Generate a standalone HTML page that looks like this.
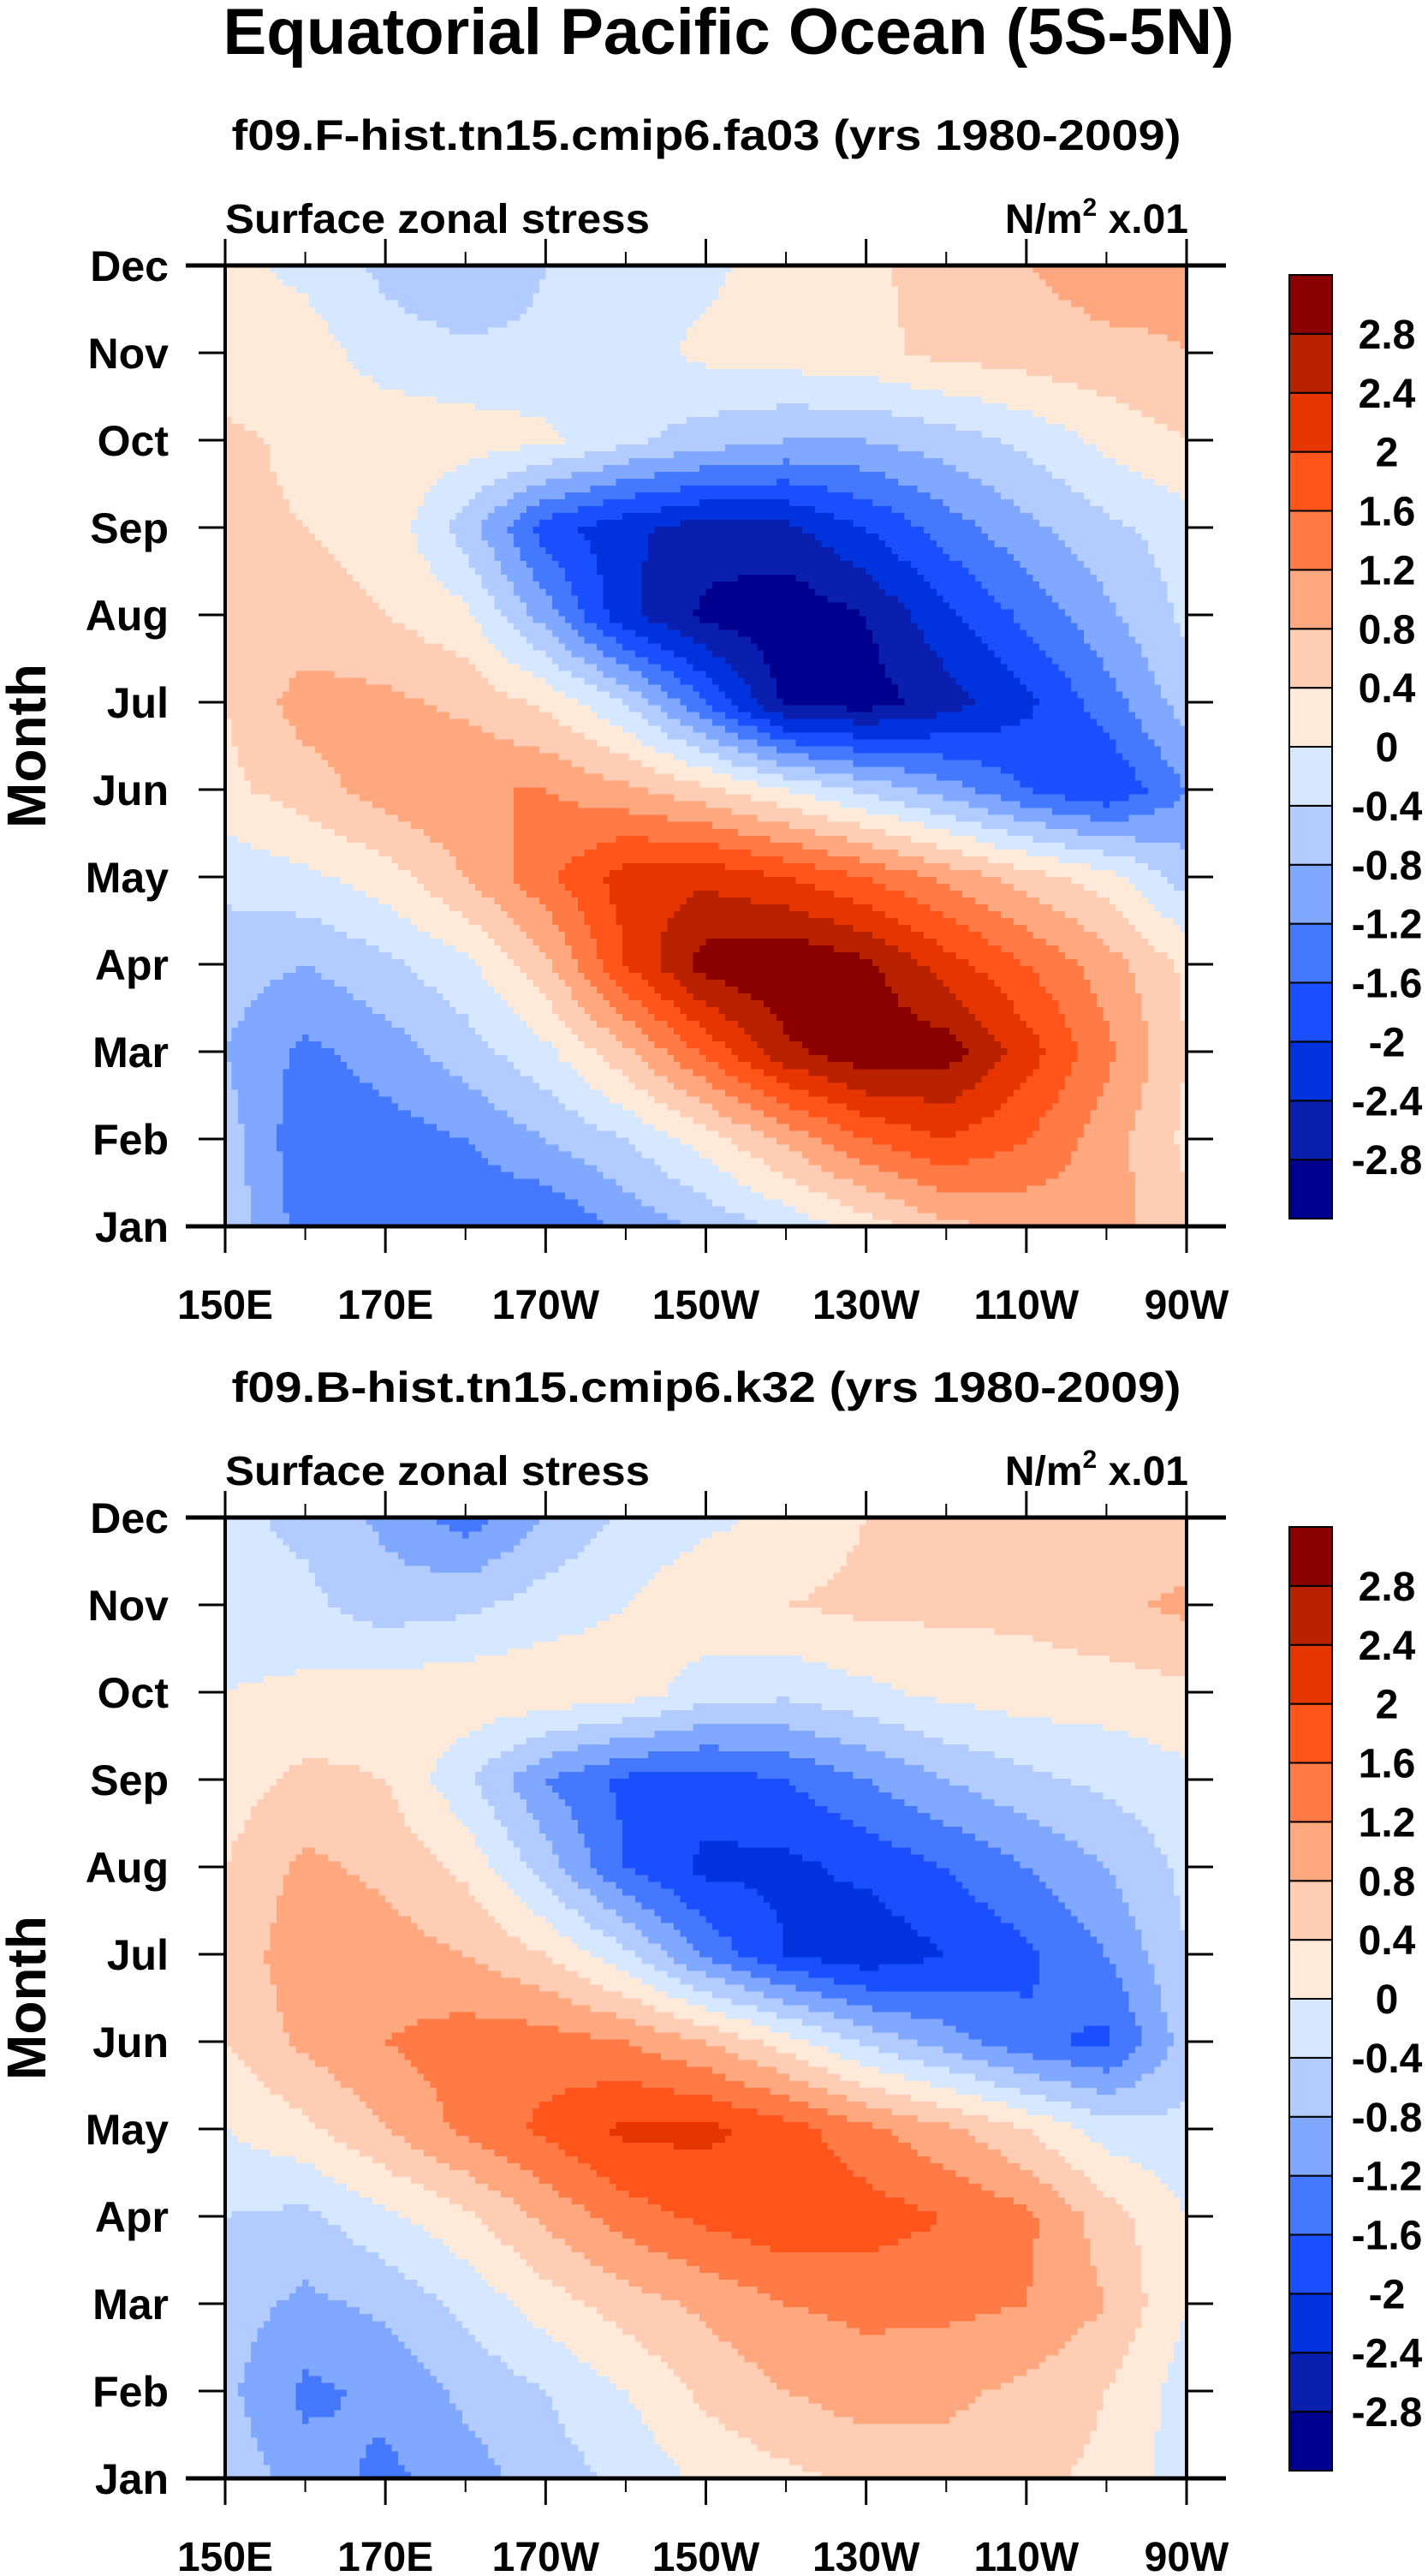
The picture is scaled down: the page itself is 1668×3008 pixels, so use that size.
<!DOCTYPE html>
<html><head><meta charset="utf-8"><title>Equatorial Pacific Ocean (5S-5N)</title>
<style>html,body{margin:0;padding:0;background:#fff}svg{display:block}text{font-family:"Liberation Sans",Arial,sans-serif;font-weight:bold;fill:#000}</style>
</head><body>
<svg id="fig" xmlns="http://www.w3.org/2000/svg" width="1668" height="3008" viewBox="0 0 1668 3008">
<text x="851" y="63" font-size="76" text-anchor="middle" textLength="1181" lengthAdjust="spacingAndGlyphs">Equatorial Pacific Ocean (5S-5N)</text>
<g id="panels"></g>
</svg>
<script>
// ---- data ----
const months = ["Jan","Feb","Mar","Apr","May","Jun","Jul","Aug","Sep","Oct","Nov","Dec"];
const lons = [150,160,170,180,190,200,210,220,230,240,250,260,270];
const lonTicks = [150,170,190,210,230,250,270];
const lonTickLabels = ["150E","170E","170W","150W","130W","110W","90W"];
const levels = [-2.8,-2.4,-2,-1.6,-1.2,-0.8,-0.4,0,0.4,0.8,1.2,1.6,2,2.4,2.8];
const levelLabels = ["-2.8","-2.4","-2","-1.6","-1.2","-0.8","-0.4","0","0.4","0.8","1.2","1.6","2","2.4","2.8"];
const colors = ["#00008f","#0a1fae","#0033dd","#1a4fff","#4479ff","#80a8ff","#b3ccff","#d6e8ff","#ffead9","#ffcdb3","#ffa880","#ff7a45","#ff541a","#e63500","#b82200","#8b0000"];
const titles = ["f09.F-hist.tn15.cmip6.fa03 (yrs 1980-2009)","f09.B-hist.tn15.cmip6.k32 (yrs 1980-2009)"];
// rows: Jan..Dec, columns: lons
const taux1 = [
 [-0.5,-1.4,-1.5,-1.5,-1.6,-1.1,-0.7,-0.3,0.2,0.7,0.9,1.0,0.5],
 [-0.6,-1.5,-1.4,-1.2,-0.8,-0.4,0.2,0.9,1.6,2.0,1.6,1.0,0.3],
 [-0.8,-1.3,-1.0,-0.6,-0.1,0.7,1.7,2.7,3.1,3.0,2.2,1.3,0.4],
 [-0.6,-0.8,-0.5,-0.1,0.7,2.0,3.0,3.2,2.9,2.2,1.6,1.0,0.3],
 [-0.3,-0.1,0.2,0.8,1.5,2.2,2.3,2.0,1.6,1.1,0.6,0.2,-0.6],
 [0.3,0.6,1.0,1.2,1.2,0.9,0.5,0.0,-0.5,-1.0,-1.6,-2.0,-1.2],
 [0.4,1.0,0.9,0.7,0.3,-0.4,-1.6,-2.9,-3.0,-2.6,-2.1,-1.4,-0.6],
 [0.4,0.5,0.4,0.1,-1.0,-2.3,-2.9,-3.1,-2.8,-2.1,-1.5,-0.9,-0.3],
 [0.5,0.4,0.3,-0.6,-1.8,-2.3,-2.6,-2.5,-2.0,-1.4,-0.9,-0.5,-0.2],
 [0.5,0.3,0.3,0.2,0.1,-0.3,-0.6,-0.8,-0.8,-0.6,-0.3,0.1,0.4],
 [0.1,0.2,-0.2,-0.3,-0.3,-0.2,0.1,0.2,0.3,0.5,0.6,0.7,0.8],
 [0.1,-0.1,-0.5,-0.8,-0.4,-0.1,-0.1,0.2,0.3,0.6,0.8,1.0,0.9]
];
const taux2 = [
 [-0.5,-1.0,-1.3,-1.0,-0.6,-0.3,0.1,0.3,0.5,0.6,0.5,0.3,-0.2],
 [-0.7,-1.3,-1.1,-0.7,-0.4,0.0,0.5,0.8,1.0,0.9,0.7,0.4,-0.2],
 [-0.6,-0.9,-0.7,-0.3,0.2,0.6,0.9,1.2,1.3,1.3,1.2,0.8,0.0],
 [-0.4,-0.5,-0.1,0.3,0.9,1.4,1.7,1.9,1.8,1.6,1.3,0.6,0.0],
 [0.0,0.3,0.8,1.3,1.7,2.1,2.1,1.8,1.3,0.9,0.4,-0.2,-0.3],
 [0.4,0.9,1.2,1.4,1.4,1.2,0.8,0.2,-0.5,-1.0,-1.5,-1.7,-0.6],
 [0.5,1.1,1.0,0.8,0.4,-0.3,-1.3,-2.0,-2.3,-2.0,-1.7,-1.2,-0.4],
 [0.4,0.9,0.7,0.3,-0.6,-1.6,-2.1,-2.1,-1.9,-1.6,-1.2,-0.8,-0.3],
 [0.2,0.5,0.4,-0.3,-1.2,-1.7,-1.8,-1.6,-1.2,-0.8,-0.5,-0.3,-0.1],
 [0.0,0.1,0.2,0.3,0.3,0.2,-0.2,-0.3,-0.1,0.1,0.2,0.2,0.3],
 [-0.2,-0.3,-0.6,-0.5,-0.2,0.0,0.3,0.4,0.5,0.5,0.5,0.7,0.9],
 [-0.3,-0.5,-0.9,-1.4,-0.8,-0.3,-0.1,0.1,0.4,0.5,0.5,0.5,0.5]
];
const panelData = [taux1, taux2];

// ---- drawing ----
const NS = "http://www.w3.org/2000/svg";
const root = document.getElementById('panels');
function mk(tag, attrs, parent){const e=document.createElementNS(NS,tag);for(const k in attrs)e.setAttribute(k,attrs[k]);(parent||root).appendChild(e);return e;}
function colorFor(v){let i=0;while(i<levels.length&&v>=levels[i])i++;return colors[i];}
const PL=263, PR=1386, PH=1122, OFF=1462;

panelData.forEach((grid, p) => {
  const top = 310 + p*OFF, bot = top + PH;
  const xS = lon => PL + (lon-150)/120*(PR-PL);
  const yS = m => bot - m/11*PH;
  const g = mk('g',{});
  
  
  const t = mk('text',{x:825,y:175+p*OFF,'font-size':50,'text-anchor':'middle',textLength:1109,lengthAdjust:'spacingAndGlyphs'},g);
  t.textContent = titles[p];
  
  
  const l = mk('text',{x:263,y:272+p*OFF,'font-size':48,textLength:496,lengthAdjust:'spacingAndGlyphs'},g);
  l.textContent = 'Surface zonal stress';
  
  
  const u = mk('text',{x:1388,y:272+p*OFF,'font-size':48,'text-anchor':'end'},g);
  u.innerHTML = 'N/m<tspan font-size="30" dy="-20">2</tspan><tspan dy="20"> x.01</tspan>';
  
  
  // field
  const fg = mk('g',{'shape-rendering':'crispEdges'},g);
  
  
  const NX=150, NY=140;
  const nL=lons.length, nM=months.length;
  for(let j=0;j<NY;j++){
    const fm=(j+0.5)/NY*(nM-1);
    const m0=Math.min(Math.floor(fm),nM-2), tm=fm-m0;
    const y0=yS(fm+0.5/NY*(nM-1)), y1=yS(fm-0.5/NY*(nM-1));
    let runStart=0, runColor=null;
    for(let i=0;i<=NX;i++){
      let c=null;
      if(i<NX){
        const fl=(i+0.5)/NX*(nL-1);
        const l0=Math.min(Math.floor(fl),nL-2), tl=fl-l0;
        const v=(1-tm)*((1-tl)*grid[m0][l0]+tl*grid[m0][l0+1])+tm*((1-tl)*grid[m0+1][l0]+tl*grid[m0+1][l0+1]);
        c=colorFor(v);
      }
      if(c!==runColor){
        if(runColor){
          const xa=xS(150+runStart/NX*120), xb=xS(150+i/NX*120);
          const r=mk('rect',{x:xa.toFixed(1),y:y0.toFixed(1),width:(xb-xa+0.6).toFixed(1),height:(y1-y0+0.6).toFixed(1),fill:runColor},fg);
          
          
        }
        runStart=i; runColor=c;
      }
    }
  }
  // frame
  const fr = mk('rect',{x:PL,y:top,width:PR-PL,height:PH,fill:'none',stroke:'#000','stroke-width':4},g);
  
  
  mk('line',{x1:PL-46,y1:top,x2:PR+46,y2:top,stroke:'#000','stroke-width':5},g);
  mk('line',{x1:PL-46,y1:bot,x2:PR+46,y2:bot,stroke:'#000','stroke-width':5},g);
  // x ticks
  for(let lon=150;lon<=270;lon+=10){
    const major=(lon-150)%20===0, len=major?31:16, x=xS(lon);
    mk('line',{x1:x,y1:bot,x2:x,y2:bot+len,stroke:'#000','stroke-width':major?3:2},g);
    mk('line',{x1:x,y1:top,x2:x,y2:top-len,stroke:'#000','stroke-width':major?3:2},g);
  }
  lonTicks.forEach((lon,k)=>{
    const tx=mk('text',{x:xS(lon),y:bot+108,'font-size':48,'text-anchor':'middle'},g);
    tx.textContent=lonTickLabels[k];
    
    
  });
  // y ticks
  months.forEach((mn,m)=>{
    const y=yS(m);
    mk('line',{x1:PL-31,y1:y,x2:PL,y2:y,stroke:'#000','stroke-width':3},g);
    mk('line',{x1:PR,y1:y,x2:PR+31,y2:y,stroke:'#000','stroke-width':3},g);
    const ty=mk('text',{x:197,y:y+18,'font-size':50,'text-anchor':'end'},g);
    ty.textContent=mn;
    
    
  });
  const yt=mk('text',{x:0,y:0,'font-size':64,'text-anchor':'middle',transform:`translate(53,${(top+bot)/2}) rotate(-90)`},g);
  yt.textContent='Month';
  
  
  // colorbar
  const cb = mk('g',{},g);
  
  
  const cTop=321+p*OFF, boxH=(1423-321)/colors.length;
  colors.forEach((c,k)=>{
    const y=cTop+(colors.length-1-k)*boxH;
    const r=mk('rect',{x:1506,y:y,width:50,height:boxH,fill:c,stroke:'#000','stroke-width':2},cb);
    
    
  });
  levels.forEach((lv,k)=>{
    const y=cTop+(colors.length-1-k)*boxH;
    const tt=mk('text',{x:1620,y:y+17,'font-size':48,'text-anchor':'middle'},cb);
    tt.textContent=levelLabels[k];
    
    
  });
});
</script>
</body></html>
